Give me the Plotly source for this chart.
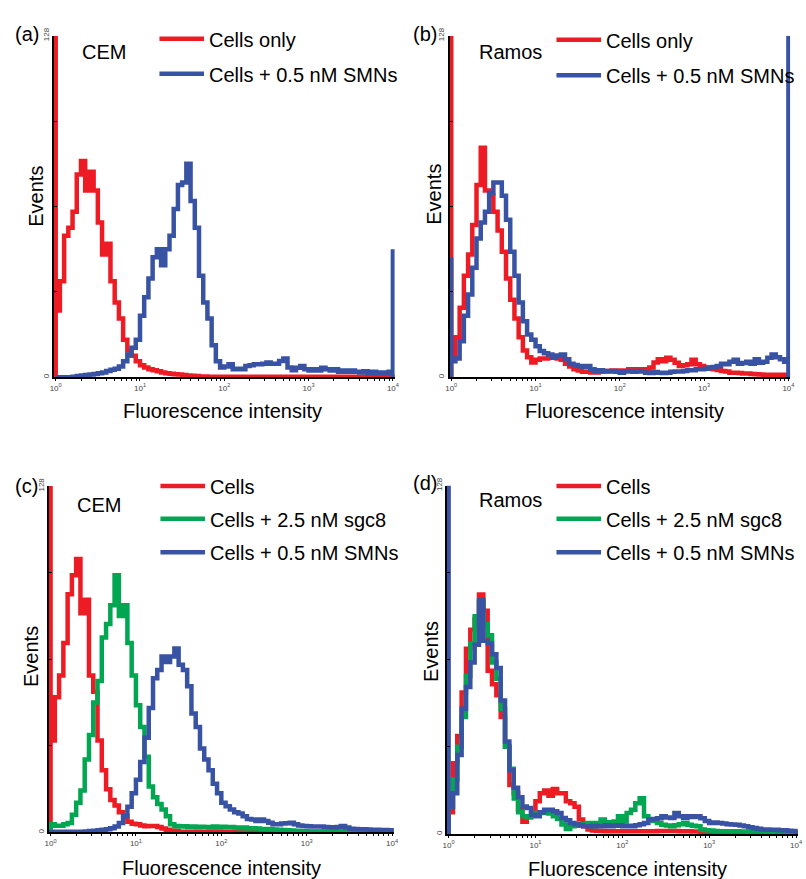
import plotly.graph_objects as go

# ---------------- data (events per channel bin) ----------------
# channel bins: left edges at 10^(0.05*i), i = 0..79, covering 10^0 .. 10^4
BIN_STEP = 0.05
N_BINS = 80
Y_MAX = 128
X_TICK_LABELS = ["10<sup>0</sup>", "10<sup>1</sup>", "10<sup>2</sup>", "10<sup>3</sup>", "10<sup>4</sup>"]
Y_TICK_LABELS = ["0", "128"]

# (a) CEM
A_CELLS = [
    25, 36, 53, 56, 62, 76, 81, 70, 77, 70,
    58, 46, 50, 36, 28, 22, 14, 10, 8, 6,
    4.5, 3.6, 3, 2.6, 2.2, 1.8, 1.5, 1.3, 1.1, 1,
    0.8, 0.6, 0.5, 0.4, 0.3, 0.3, 0.2, 0.2, 0.2, 0.2,
    0.2, 0.2, 0.2, 0.2, 0.2, 0.2, 0.2, 0.2, 0.2, 0.2,
    0.2, 0.2, 0.2, 0.2, 0.2, 0.2, 0.2, 0.2, 0.2, 0.2,
    0.2, 0.2, 0.2, 0.2, 0.2, 0.2, 0.2, 0.2, 0.2, 0.2,
    0.2, 0.2, 0.2, 0.2, 0.2, 0.2, 0.2, 0.2, 0.2, 0.2,
]
A_CELLS_ENDS = [128, 0.2]
A_SMN = [
    0, 0, 0, 0, 0.2, 0.4, 0.6, 0.8, 1, 1.2,
    1.5, 1.8, 2.3, 2.8, 3.2, 4, 6, 8.5, 11, 14,
    23, 30, 37, 45, 48, 42, 48, 53, 63, 72,
    73, 80, 66, 56, 38, 28, 22, 12, 6, 3.6,
    4, 4.8, 3, 3.2, 3, 4.2, 4.5, 4.8, 4.8, 5,
    5.5, 5, 5, 6.1, 7, 3.6, 2.6, 3.5, 4.2, 3,
    2.5, 3, 2.5, 3.5, 3, 2.5, 3, 2, 2.5, 2,
    2.5, 2, 1.8, 2.2, 1.5, 2, 1.5, 1.8, 1.5, 2,
]
A_SMN_ENDS = [0, 48]

# (b) Ramos
B_CELLS = [
    8, 15, 26, 38, 46, 57, 72, 86, 70, 68,
    62, 55, 47, 37, 29, 22, 15, 10, 7.5, 5.5,
    6.5, 7, 7, 7.5, 8, 7, 6.5, 5, 4, 3,
    2.5, 2, 2, 1.8, 1.8, 2, 2.2, 2.3, 2.5, 2.3,
    2.5, 2.5, 3, 2.5, 3, 3, 3, 3.6, 5.5, 6.7,
    6, 7.3, 6.5, 5.4, 4.2, 4.5, 4.8, 6.5, 4.8, 4.2,
    3.6, 3.3, 3, 2.7, 2.3, 2.1, 1.7, 1.7, 1.6, 1.4,
    1.4, 1.2, 1.1, 1, 0.9, 0.9, 0.9, 0.9, 0.9, 0.9,
]
B_CELLS_ENDS = [128, 0.9]
B_SMN = [
    6, 7, 13.5, 23, 31, 41, 52, 58, 62, 69,
    73, 73, 68, 59, 47, 38, 28, 21, 16, 14,
    11.6, 9.8, 9, 8.5, 7.3, 8, 8.5, 6.7, 5, 4.6,
    4.2, 3.8, 4.2, 3, 2.3, 2.6, 2.3, 2.1, 2.3, 2,
    1.7, 2.1, 2.3, 2, 2.3, 2.1, 1.7, 1.6, 1.9, 1.7,
    1.6, 1.7, 2, 2.1, 2.1, 2.3, 2.6, 2.6, 3, 3,
    3.2, 3.6, 3.8, 4.2, 5, 4.8, 5.8, 6.5, 5, 5.3,
    5.8, 5, 6.7, 5.4, 5.8, 7.3, 8.5, 7.5, 6.7, 5.8,
]
B_SMN_ENDS = [45, 128]

# (c) CEM
C_CELLS = [
    34, 50, 58, 70, 88, 95, 101, 81, 86, 58,
    52, 34, 23, 16, 12, 10, 7.5, 6, 4, 3.2,
    3, 2.6, 2.3, 2.4, 2.4, 2, 1.5, 1, 0.7, 0.5,
    0.3, 0.3, 0.3, 0.3, 0.3, 0.3, 0.3, 0.3, 0.3, 0.3,
    0.3, 0.3, 0.3, 0.3, 0.3, 0.3, 0.3, 0.3, 0.3, 0.3,
    0.3, 0.3, 0.3, 0.3, 0.3, 0.3, 0.3, 0.3, 0.3, 0.3,
    0.3, 0.3, 0.3, 0.3, 0.3, 0.3, 0.3, 0.3, 0.3, 0.3,
    0.3, 0.3, 0.3, 0.3, 0.3, 0.3, 0.3, 0.3, 0.3, 0.3,
]
C_CELLS_ENDS = [128, 0.3]
C_SGC8 = [
    3, 2.5, 2.5, 3, 3.5, 6.5, 11, 15.5, 27, 36,
    48, 56, 72, 77, 84, 95, 80, 84, 70, 58,
    47, 39, 28, 17, 13, 10.5, 8.5, 6, 3, 2.4,
    2.2, 2.3, 2, 2.2, 1.9, 2.1, 2, 1.8, 2.2, 1.8,
    2.1, 1.9, 2, 1.8, 1.6, 1.8, 1.5, 1.6, 1.5, 1.3,
    1.2, 1.3, 1.1, 1, 0.9, 0.8, 0.7, 0.6, 0.5, 0.5,
    0.4, 0.4, 0.4, 0.4, 0.4, 0.4, 0.4, 0.4, 0.4, 0.4,
    0.3, 0.3, 0.3, 0.3, 0.3, 0.3, 0.3, 0.3, 0.3, 0.3,
]
C_SGC8_ENDS = [3, 0.3]
C_SMN = [
    0.3, 0.3, 0.3, 0.3, 0.3, 0.3, 0.3, 0.3, 0.4, 0.5,
    0.6, 0.8, 1, 1.2, 1.6, 2.2, 3.5, 6, 9.5, 14.5,
    19.5, 26, 35, 46, 57, 60, 65, 63, 65, 68,
    62, 60, 54, 44, 39, 31, 27, 23, 18, 14.5,
    11, 9.7, 8.5, 7.5, 7, 6, 5, 4.8, 4.2, 4.8,
    4.2, 3.6, 3, 3, 3.3, 3.4, 3.6, 3, 2.6, 2.4,
    2.3, 2.2, 2.2, 2.2, 2, 1.9, 1.8, 2, 2.4, 1.8,
    1.4, 1.3, 1.2, 1.2, 1.1, 1, 1, 0.9, 0.9, 0.8,
]
C_SMN_ENDS = [0, 0.8]

# (d) Ramos
D_CELLS = [
    8, 26, 36, 52, 68, 75, 79, 88, 82, 60,
    55, 51, 43, 32, 18, 15, 9, 4.5, 6.5, 8,
    12, 15, 16, 14, 16.5, 15, 15, 12, 11.3, 10,
    5.3, 2.8, 1.6, 1.3, 1.2, 1.1, 1, 1, 1, 1,
    1, 1, 1, 1, 1, 1, 1, 1, 1.1, 1.1,
    1.1, 1.1, 1.1, 1, 1, 1, 0.9, 0.9, 0.8, 0.8,
    0.7, 0.7, 0.7, 0.7, 0.7, 0.6, 0.6, 0.6, 0.6, 0.6,
    0.6, 0.5, 0.5, 0.5, 0.5, 0.5, 0.5, 0.5, 0.5, 0.5,
]
D_CELLS_ENDS = [0, 0.5]
D_SGC8 = [
    10, 20, 32, 43, 58, 70, 80, 85, 77, 73,
    63, 57, 46, 32, 24, 13, 8, 6.5, 6, 7.5,
    7.7, 7.7, 7.7, 7.5, 6.5, 5.5, 3.5, 1.8, 2.8, 3,
    3.4, 3.6, 4, 2.8, 4, 5.3, 4, 4.3, 4.6, 6.5,
    4.6, 7.7, 8.9, 11.3, 13.1, 6.5, 5.3, 4.8, 4, 3.4,
    3.1, 2.8, 3.2, 3.6, 4, 3.4, 3, 2.8, 1.6, 1.4,
    1.3, 1.1, 1, 1, 1, 1, 1, 0.9, 0.9, 0.8,
    0.7, 0.7, 0.6, 0.6, 0.6, 0.5, 0.5, 0.5, 0.5, 0.5,
]
D_SGC8_ENDS = [0, 0.5]
D_SMN = [
    10, 15, 29, 46, 54, 63, 69.5, 86, 71, 70,
    66, 61, 49, 34, 23.4, 17, 13.5, 10.1, 9.5, 7,
    6.5, 8, 8.9, 8.9, 8.3, 7.7, 5.9, 5, 4, 3.6,
    3.2, 2.8, 2.8, 3, 2.8, 2.8, 3.2, 2.8, 3, 3.2,
    2.8, 3, 2.8, 3.2, 3.6, 4, 5.3, 5.5, 5.8, 6.5,
    6, 5.9, 7.7, 6.5, 5.9, 6.5, 6.2, 6.5, 5.8, 4.8,
    4, 4.2, 4, 3.8, 3.6, 3.5, 3.4, 3.1, 2.8, 2.5,
    2.2, 1.9, 1.6, 1.6, 1.5, 1.5, 1.4, 1.4, 1.2, 1.1,
]
D_SMN_ENDS = [128, 1.1]

RED = "#ED1C24"
GREEN = "#00A651"
BLUE = "#3953A4"

LBL_CELLS_ONLY = "Cells only"
LBL_CELLS = "Cells"
LBL_SGC8 = "Cells + 2.5 nM sgc8"
LBL_SMN = "Cells + 0.5 nM SMNs"

# ---------------- layout helpers (pixel -> paper) ----------------
W, H = 806, 879
FONT = "Arial, Liberation Sans, sans-serif"


def fx(p):
    return p / W


def fy(p):
    return 1 - p / H


BINS = [10 ** (i * BIN_STEP) for i in range(N_BINS)]
X_MAJOR = [1, 10, 100, 1000, 10000]
X_MINOR = [m * 10 ** d for d in range(4) for m in range(2, 10)]

panels = [
    dict(xd=(50.5, 394.5), yd=(28, 373),
         series=[(A_CELLS, A_CELLS_ENDS, RED), (A_SMN, A_SMN_ENDS, BLUE)],
         tag="(a)", tag_xy=(9, 26), cell="CEM", cell_xy=(77, 44),
         legend=[(RED, LBL_CELLS_ONLY, 31), (BLUE, LBL_SMN, 66.5)], leg_x=(157, 202),
         events_xy=(32, 190), fl_xy=(221, 407)),
    dict(xd=(450, 794), yd=(28, 373),
         series=[(B_CELLS, B_CELLS_ENDS, RED), (B_SMN, B_SMN_ENDS, BLUE)],
         tag="(b)", tag_xy=(411, 26), cell="Ramos", cell_xy=(478, 44),
         legend=[(RED, LBL_CELLS_ONLY, 32), (BLUE, LBL_SMN, 68)], leg_x=(558, 603),
         events_xy=(434, 188), fl_xy=(627, 407)),
    dict(xd=(45.3, 393.7), yd=(483, 833),
         series=[(C_CELLS, C_CELLS_ENDS, RED), (C_SGC8, C_SGC8_ENDS, GREEN), (C_SMN, C_SMN_ENDS, BLUE)],
         tag="(c)", tag_xy=(9, 483), cell="CEM", cell_xy=(72, 502),
         legend=[(RED, LBL_CELLS, 483), (GREEN, LBL_SGC8, 516), (BLUE, LBL_SMN, 550)], leg_x=(158, 203),
         events_xy=(28, 655), fl_xy=(220, 869)),
    dict(xd=(447.3, 801.7), yd=(482.5, 834.5),
         series=[(D_CELLS, D_CELLS_ENDS, RED), (D_SGC8, D_SGC8_ENDS, GREEN), (D_SMN, D_SMN_ENDS, BLUE)],
         tag="(d)", tag_xy=(411, 480), cell="Ramos", cell_xy=(478, 497),
         legend=[(RED, LBL_CELLS, 483), (GREEN, LBL_SGC8, 516), (BLUE, LBL_SMN, 550)], leg_x=(558, 603),
         events_xy=(432, 650), fl_xy=(630, 870)),
]

fig = go.Figure()
annotations = []
shapes = []
layout_axes = {}


def ann(text, x, y, xanchor="left", size=20, angle=0):
    annotations.append(dict(text=text, x=fx(x), y=fy(y), xref="paper", yref="paper",
                            xanchor=xanchor, yanchor="middle", showarrow=False,
                            textangle=angle,
                            font=dict(family=FONT, size=size, color="black")))


for idx, p in enumerate(panels):
    n = "" if idx == 0 else str(idx + 1)
    xa, ya = "x" + n, "y" + n
    for vals, ends, color in p["series"]:
        # first channel (10^0) and last channel (10^4) drawn as vertical bars from 0
        xs = [1.0, 1.0] + BINS + [10000, 10000, 10000]
        ys = [ends[0], 0] + vals + [vals[-1], 0, ends[1]]
        fig.add_trace(go.Scatter(x=xs, y=ys, mode="lines", xaxis=xa, yaxis=ya,
                                 line=dict(color=color, width=4.5, shape="hv"),
                                 showlegend=False, hoverinfo="skip"))
    layout_axes["xaxis" + n] = dict(
        type="log", range=[-0.02, 4.02], domain=[fx(p["xd"][0]), fx(p["xd"][1])],
        anchor=ya, showline=True, linecolor="black", linewidth=2, mirror=False,
        ticks="outside", ticklen=2, tickwidth=1, tickcolor="black",
        tickmode="array", tickvals=X_MAJOR, ticktext=X_TICK_LABELS,
        minor=dict(tickmode="array", tickvals=X_MINOR, ticks="outside", ticklen=2,
                   tickwidth=1, tickcolor="black", showgrid=False),
        tickfont=dict(family=FONT, size=8, color="#444444"),
        showgrid=False, zeroline=False, fixedrange=True)
    layout_axes["yaxis" + n] = dict(
        range=[0, Y_MAX], domain=[fy(p["yd"][1]), fy(p["yd"][0])],
        anchor=xa, showline=True, linecolor="black", linewidth=2, mirror=False,
        ticks="inside", ticklen=3, tickwidth=1, tickcolor="black",
        tickmode="array", tickvals=[0, Y_MAX], ticktext=Y_TICK_LABELS,
        minor=dict(tickmode="array", tickvals=[32, 64, 96], ticks="inside", ticklen=3,
                   tickwidth=1, tickcolor="black", showgrid=False),
        tickangle=-90, tickfont=dict(family=FONT, size=8, color="#444444"),
        showgrid=False, zeroline=False, fixedrange=True)

    ann(p["tag"], *p["tag_xy"])
    ann(p["cell"], *p["cell_xy"])
    ann("Events", p["events_xy"][0], p["events_xy"][1], xanchor="center", angle=-90)
    ann("Fluorescence intensity", p["fl_xy"][0], p["fl_xy"][1], xanchor="center")
    for color, label, ly in p["legend"]:
        shapes.append(dict(type="line", xref="paper", yref="paper",
                           x0=fx(p["leg_x"][0]), x1=fx(p["leg_x"][1]), y0=fy(ly), y1=fy(ly),
                           line=dict(color=color, width=4.5)))
        ann(label, p["leg_x"][1] + 3, ly + 1)

fig.update_layout(
    width=W, height=H, margin=dict(l=0, r=0, t=0, b=0),
    paper_bgcolor="white", plot_bgcolor="white",
    annotations=annotations, shapes=shapes, **layout_axes)

fig.write_html("out.html", config={"displayModeBar": False},
               post_script="document.body.style.margin='0';document.body.style.overflow='hidden';")
